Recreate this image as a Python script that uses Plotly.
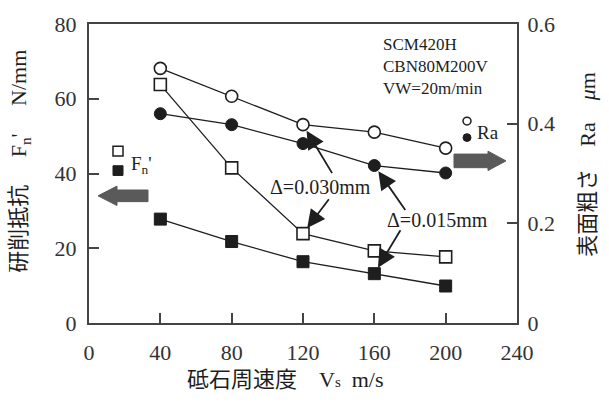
import plotly.graph_objects as go

# ---- data ----
VS = [40, 80, 120, 160, 200]
FN_030 = [63.8, 41.5, 23.9, 19.3, 17.7]   # open squares, Fn' (N/mm)
FN_015 = [27.8, 21.8, 16.4, 13.2, 9.9]    # filled squares
RA_030 = [0.511, 0.455, 0.398, 0.383, 0.351]  # open circles, Ra (um)
RA_015 = [0.420, 0.398, 0.360, 0.316, 0.301]  # filled circles

X_TICKS = [0, 40, 80, 120, 160, 200, 240]
Y1_TICKS = [0, 20, 40, 60, 80]
Y2_TICKS = [0, 0.2, 0.4, 0.6]
Y2_TICKTEXT = ["0", "0.2", "0.4", "0.6"]

W, H = 609, 405
ML, MR, MT, MB = 89, 92, 15, 82
PW, PH = W - ML - MR, H - MT - MB

SERIF = "Liberation Serif, 'Noto Sans CJK JP', serif"
INK = "#1e1e1e"
AX = "#444444"


def px(x):
    return (x - ML) / PW


def py(y):
    return (H - MB - y) / PH


fig = go.Figure()

line_style = dict(color=INK, width=1.3)
fig.add_trace(go.Scatter(x=VS, y=FN_030, mode="lines+markers", line=line_style,
                         marker=dict(symbol="square", size=12, color="white",
                                     line=dict(color=INK, width=1.6)),
                         yaxis="y", showlegend=False))
fig.add_trace(go.Scatter(x=VS, y=FN_015, mode="lines+markers", line=line_style,
                         marker=dict(symbol="square", size=12, color=INK,
                                     line=dict(color=INK, width=1)),
                         yaxis="y", showlegend=False))
fig.add_trace(go.Scatter(x=VS, y=RA_030, mode="lines+markers", line=line_style,
                         marker=dict(symbol="circle", size=12, color="white",
                                     line=dict(color=INK, width=1.6)),
                         yaxis="y2", showlegend=False))
fig.add_trace(go.Scatter(x=VS, y=RA_015, mode="lines+markers", line=line_style,
                         marker=dict(symbol="circle", size=12, color=INK,
                                     line=dict(color=INK, width=1)),
                         yaxis="y2", showlegend=False))

tickfont = dict(family=SERIF, size=22, color="#333333")

fig.update_layout(
    width=W, height=H,
    margin=dict(l=ML, r=MR, t=MT, b=MB, pad=0),
    paper_bgcolor="white", plot_bgcolor="white",
    xaxis=dict(range=[0, 240], tickvals=X_TICKS, ticks="inside", ticklen=10,
               tickwidth=1.5, tickcolor=AX, showline=True, linecolor=AX,
               linewidth=2, mirror=True, showgrid=False, zeroline=False,
               tickfont=tickfont, ticklabelstandoff=9),
    yaxis=dict(range=[0, 80], tickvals=Y1_TICKS, ticks="inside", ticklen=10,
               tickwidth=1.5, tickcolor=AX, showline=True, linecolor=AX,
               linewidth=2, showgrid=False, zeroline=False, tickfont=tickfont,
               ticklabelstandoff=6),
    yaxis2=dict(range=[0, 0.6], tickvals=Y2_TICKS, ticktext=Y2_TICKTEXT,
                overlaying="y", side="right", ticks="inside", ticklen=10,
                tickwidth=1.5, tickcolor=AX, showline=True, linecolor=AX,
                linewidth=2, showgrid=False, zeroline=False, tickfont=tickfont,
                ticklabelstandoff=4),
)


def label(text, x, y, size, xanchor="center", yanchor="middle", **kw):
    return dict(text=text, x=px(x), y=py(y), xref="paper", yref="paper",
                showarrow=False, xanchor=xanchor, yanchor=yanchor,
                font=dict(family=SERIF, size=size, color=INK), **kw)


SP = "\u00a0"
SMALL = "<span style='font-size:15px'>{}</span>"
ann = []
# axis titles
ann.append(label("砥石周速度" + SP * 4 + "V" + SMALL.format("s") + SP * 2 + "m/s",
                 285, 381, 22))
ann.append(label("研削抵抗" + SP * 5 + "F<sub>n</sub>'" + SP * 5 + "N/mm", 20, 157, 22,
                 textangle=-90))
ann.append(label("表面粗さ" + SP * 4 + "Ra" + SP * 4 + "<i>μ</i>m", 588, 160, 22,
                 textangle=-90))
# condition box
ann.append(label("SCM420H<br>CBN80M200V<br>VW=20m/min", 381, 24, 17,
                 xanchor="left", yanchor="top", align="left"))
# legend texts
ann.append(label("F<sub>n</sub>'", 129, 160, 19, xanchor="left"))
ann.append(label("Ra", 475, 127, 19, xanchor="left"))
# delta labels
ann.append(label("Δ=0.030mm", 320, 183, 20))
ann.append(label("Δ=0.015mm", 437, 217, 20))

arrow_common = dict(showarrow=True, arrowhead=2, arrowsize=2.0, arrowwidth=1.8,
                    arrowcolor=INK, text="", standoff=7, xref="x")
ann.append(dict(x=VS[2], y=RA_030[2], yref="y2", ax=30, ay=50, **arrow_common))
ann.append(dict(x=VS[2], y=FN_030[2], yref="y", ax=27, ay=-36, **arrow_common))
ann.append(dict(x=VS[3], y=RA_015[3], yref="y2", ax=32, ay=46, **arrow_common))
ann.append(dict(x=VS[3], y=FN_015[3], yref="y", ax=27, ay=-45, **arrow_common))
fig.update_layout(annotations=ann)

shapes = []
# legend symbols
shapes.append(dict(type="rect", xref="paper", yref="paper", x0=px(113), x1=px(123),
                   y0=py(151), y1=py(141), fillcolor="white",
                   line=dict(color=INK, width=1.5)))
shapes.append(dict(type="rect", xref="paper", yref="paper", x0=px(113), x1=px(123),
                   y0=py(171), y1=py(161), fillcolor=INK, line=dict(color=INK, width=1)))
shapes.append(dict(type="circle", xref="paper", yref="paper", x0=px(463), x1=px(471),
                   y0=py(119), y1=py(111), fillcolor="white",
                   line=dict(color=INK, width=1.5)))
shapes.append(dict(type="circle", xref="paper", yref="paper", x0=px(463), x1=px(471),
                   y0=py(136), y1=py(128), fillcolor=INK, line=dict(color=INK, width=1)))


def poly(points):
    return "M " + " L ".join(f"{px(a):.5f},{py(b):.5f}" for a, b in points) + " Z"


# gray block arrows
left_arrow = [(98, 192), (117, 182), (117, 186), (148, 186), (148, 198), (117, 198), (117, 202)]
right_arrow = [(506, 156), (488, 146), (488, 149), (454, 149), (454, 163), (488, 163), (488, 166)]
for pts in (left_arrow, right_arrow):
    shapes.append(dict(type="path", xref="paper", yref="paper", path=poly(pts),
                       fillcolor="#5a5a5a", line=dict(color="#5a5a5a", width=1)))
fig.update_layout(shapes=shapes)

fig.write_html("out.html")
